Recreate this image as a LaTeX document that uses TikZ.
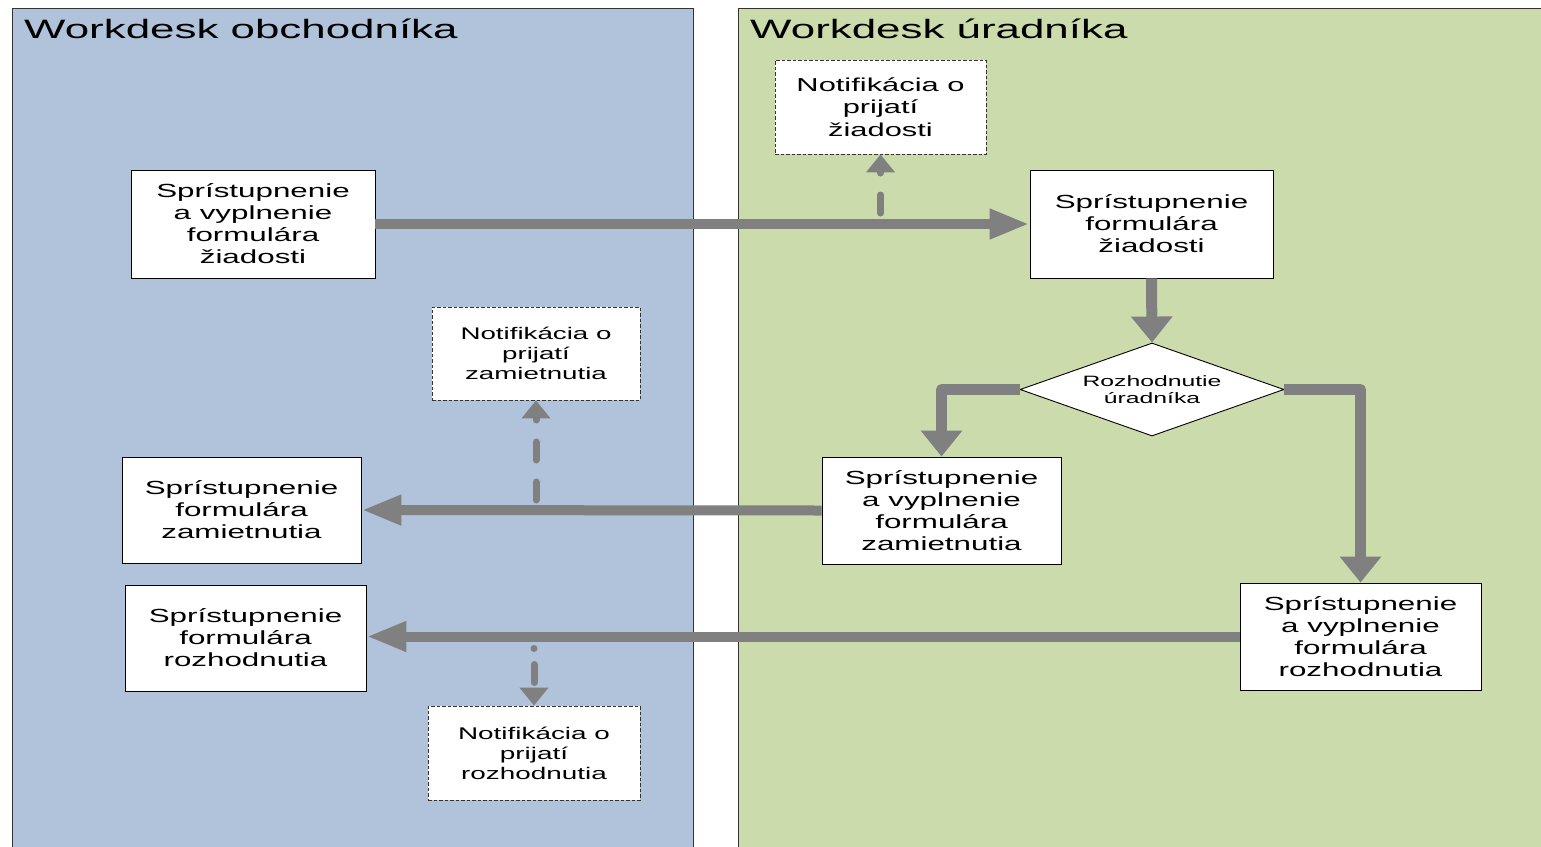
\documentclass[tikz,border=0pt]{standalone}
\usepackage{fontspec}
\setmainfont{Liberation Sans}[FakeStretch=1.65]
\usetikzlibrary{arrows.meta,shapes.geometric}
\definecolor{laneblue}{HTML}{B0C3DB}
\definecolor{lanegreen}{HTML}{CCDBAB}
\definecolor{arrowgrey}{HTML}{808080}
\tikzset{
  box/.style={draw=black, fill=white, line width=0.9pt, align=center, inner sep=0pt,
    font=\fontsize{19}{22}\selectfont},
  notebox/.style={draw=black!80, fill=white, line width=0.9pt, dash pattern=on 3.5pt off 2pt,
    align=center, inner sep=0pt},
  harrow/.style={draw=arrowgrey, line width=10pt, -{Triangle[length=40pt,width=28pt]}},
  varrow/.style={draw=arrowgrey, line width=11pt, line join=round, -{Triangle[length=26pt,width=40pt]}},
  darrow/.style={draw=arrowgrey, line width=7pt, line cap=round, dash pattern=on 18pt off 22pt,
    -{Triangle[length=18pt,width=28pt]}},
  lanetitle/.style={anchor=base west, inner sep=0pt, font=\fontsize{26.6}{30}\selectfont},
}
\begin{document}
\begin{tikzpicture}[x=1pt,y=-1pt]
\useasboundingbox (0,0) rectangle (1541,846);
\fill[white] (0,0) rectangle (1541,846);
% lanes
\fill[laneblue] (12,8) rectangle (693,850);
\draw[line width=0.9pt, black!80] (12,850) -- (12,8) -- (693,8) -- (693,850);
\fill[lanegreen] (738,8) rectangle (1545,850);
\draw[line width=0.9pt, black!80] (738,850) -- (738,8) -- (1545,8);
\node[lanetitle] (t1) at (24,38) {Workdesk obchodníka};
\node[lanetitle] (t2) at (750,38) {Workdesk úradníka};
% nodes
\node[box, minimum width=244pt, minimum height=108pt] (A) at (253,224)
  {Sprístupnenie\\a vyplnenie\\formulára\\žiadosti};
\node[box, minimum width=243pt, minimum height=108pt] (B) at (1151.5,224)
  {Sprístupnenie\\formulára\\žiadosti};
\node[notebox, minimum width=211pt, minimum height=94pt, font=\fontsize{18.7}{22.5}\selectfont] (N1) at (880.5,107)
  {Notifikácia o\\prijatí\\žiadosti};
\node[draw=black, fill=white, line width=0.9pt, shape=diamond, aspect=2.84, inner sep=0pt,
  minimum width=264pt, minimum height=93pt, align=center, font=\fontsize{15}{17}\selectfont] (D) at (1152,389.5)
  {Rozhodnutie\\úradníka};
\node[box, minimum width=239pt, minimum height=107pt] (C) at (941.5,510.5)
  {Sprístupnenie\\a vyplnenie\\formulára\\zamietnutia};
\node[box, minimum width=239pt, minimum height=106pt] (E) at (241.5,510)
  {Sprístupnenie\\formulára\\zamietnutia};
\node[notebox, minimum width=208pt, minimum height=93pt, font=\fontsize{16.8}{20}\selectfont] (N2) at (536,353.5)
  {Notifikácia o\\prijatí\\zamietnutia};
\node[box, minimum width=241pt, minimum height=107pt] (F) at (1360.5,636.5)
  {Sprístupnenie\\a vyplnenie\\formulára\\rozhodnutia};
\node[box, minimum width=241pt, minimum height=106pt] (G) at (245.5,638)
  {Sprístupnenie\\formulára\\rozhodnutia};
\node[notebox, minimum width=212pt, minimum height=94pt, font=\fontsize{16.9}{20}\selectfont] (N3) at (534,753)
  {Notifikácia o\\prijatí\\rozhodnutia};
% connectors
\draw[harrow] (A.east) -- (B.west);
\draw[harrow] (C.west) -- (E.east);
\draw[harrow] (F.west) -- (F.west -| G.east);
\draw[varrow] (B.south) -- (D.north);
\draw[varrow] (D.west) -| (C.north);
\draw[varrow] (D.east) -| (F.north);
\coordinate (n1s) at (880.5,213);
\coordinate (n2s) at (536,500);
\coordinate (n3s) at (534,648.5);
\draw[darrow] (n1s) -- (N1.south);
\draw[darrow] (n2s) -- (N2.south);
\draw[darrow, dash pattern=on 0pt off 16pt on 18pt off 40pt] (n3s) -- (N3.north);
\end{tikzpicture}
\end{document}
